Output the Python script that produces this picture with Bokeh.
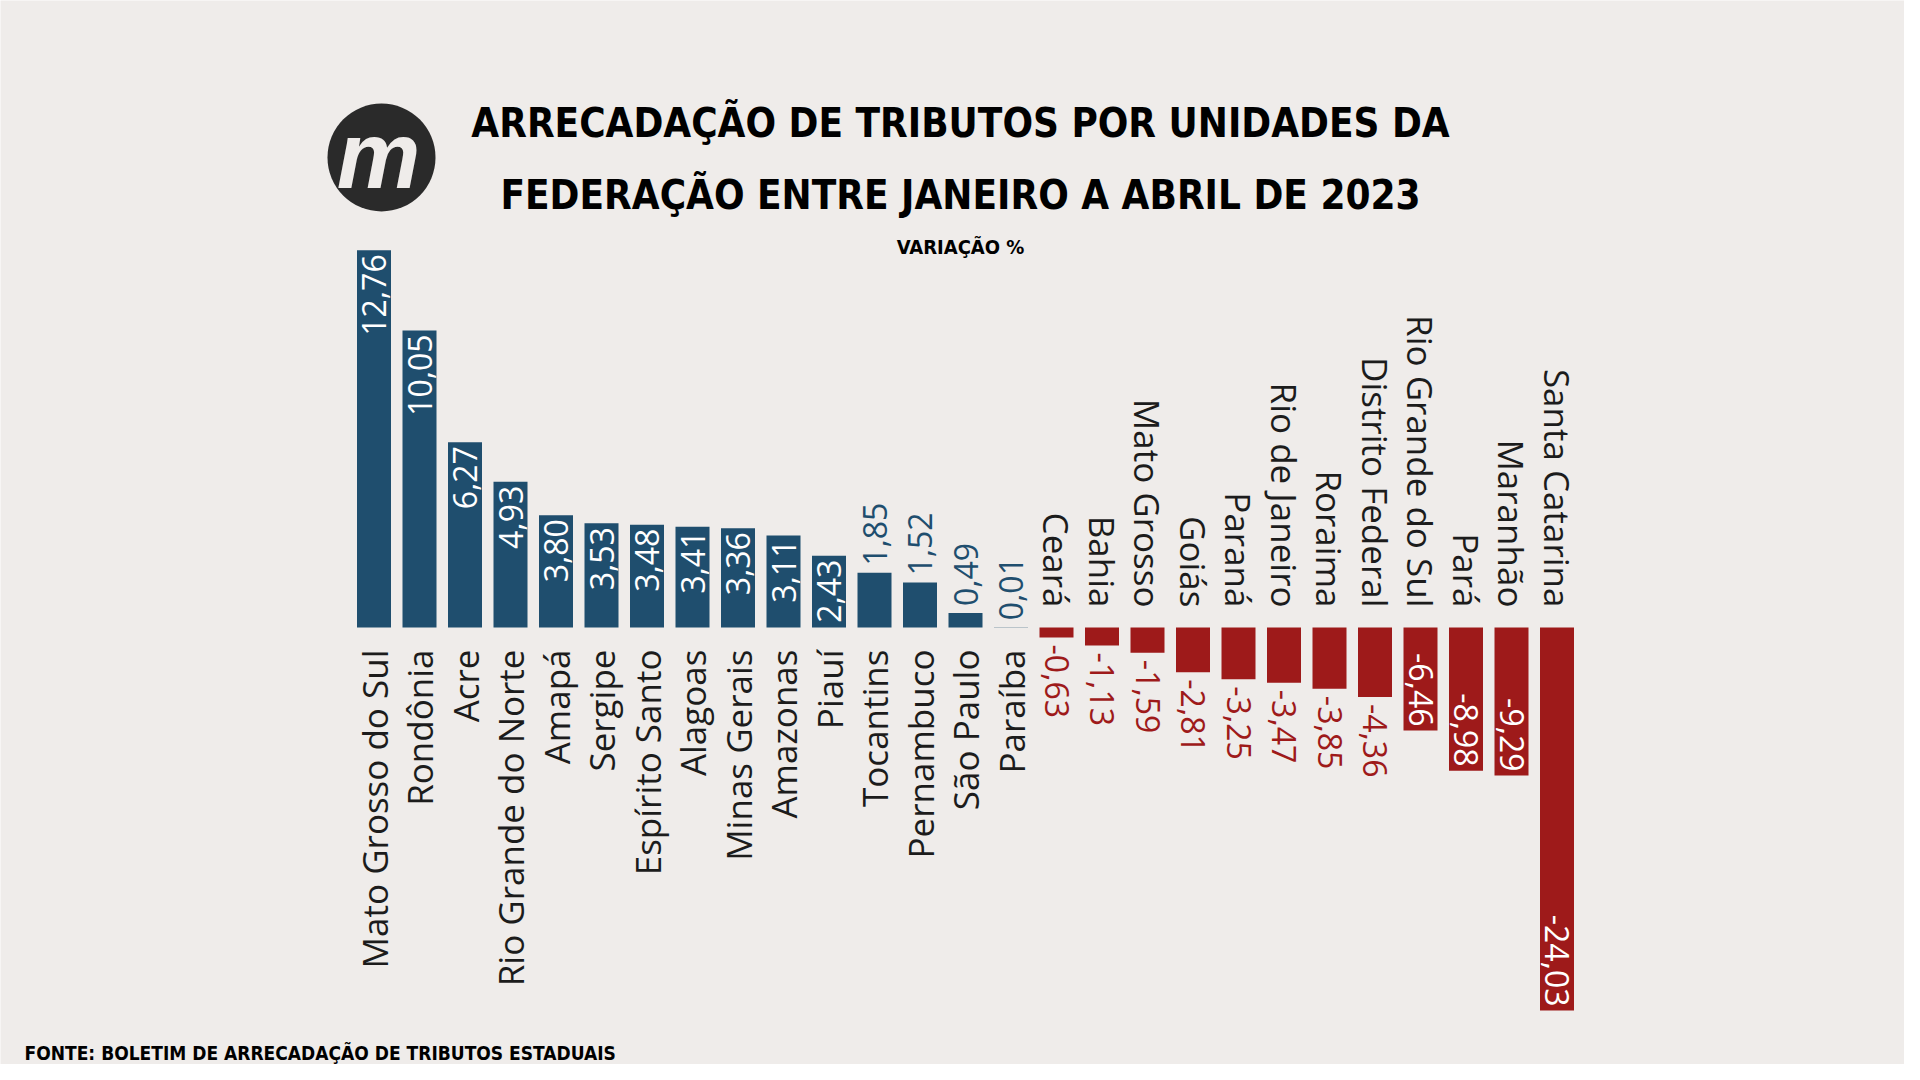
import math
from bokeh.plotting import figure
from bokeh.models import Range1d
from bokeh.core.properties import value
from bokeh.embed import file_html
from bokeh.resources import INLINE

# ---------------- data ----------------
states = ["Mato Grosso do Sul", "Rondônia", "Acre", "Rio Grande do Norte", "Amapá",
          "Sergipe", "Espírito Santo", "Alagoas", "Minas Gerais", "Amazonas", "Piauí",
          "Tocantins", "Pernambuco", "São Paulo", "Paraíba", "Ceará", "Bahia",
          "Mato Grosso", "Goiás", "Paraná", "Rio de Janeiro", "Roraima",
          "Distrito Federal", "Rio Grande do Sul", "Pará", "Maranhão", "Santa Catarina"]
variacao = [12.76, 10.05, 6.27, 4.93, 3.80, 3.53, 3.48, 3.41, 3.36, 3.11, 2.43,
            1.85, 1.52, 0.49, 0.01, -0.63, -1.13, -1.59, -2.81, -3.25, -3.47,
            -3.85, -4.36, -6.46, -8.98, -9.29, -24.03]
title_lines = ["ARRECADAÇÃO DE TRIBUTOS POR UNIDADES DA",
               "FEDERAÇÃO ENTRE JANEIRO A ABRIL DE 2023"]
subtitle = "VARIAÇÃO %"
source_note = "FONTE: BOLETIM DE ARRECADAÇÃO DE TRIBUTOS ESTADUAIS"

# ---------------- style / layout ----------------
W, H = 1904, 1064
BG = "#efecea"
BLUE = "#1f4e6e"
RED = "#9e1a1a"
DARK = "#1c1c1c"
BAR0_X = 373.5      # px of first bar centre
STEP = 45.5         # px between bars
BAR_W = 34
ZERO_Y = 627        # px of zero line (from top)
POS_PX = 29.56      # px per unit, positive side
NEG_PX = 15.94      # px per unit, negative side

TITLE_FONT = value("'DejaVu Sans Condensed', 'Liberation Sans Narrow', sans-serif")
BODY_FONT = value("Open Sans")

x_range = Range1d(-BAR0_X / STEP, (W - BAR0_X) / STEP)
y_range = Range1d((ZERO_Y - H) / POS_PX, ZERO_Y / POS_PX)

p = figure(width=W, height=H, output_backend="svg", toolbar_location=None,
           x_range=x_range, y_range=y_range, title=None,
           x_axis_location=None, y_axis_location=None, min_border=0,
           background_fill_color=BG, border_fill_color=BG, outline_line_color=None)
p.grid.visible = False
p.extra_y_ranges = {"neg": Range1d((ZERO_Y - H) / NEG_PX, ZERO_Y / NEG_PX),
                    "py": Range1d(H, 0)}
p.extra_x_ranges = {"px": Range1d(0, W)}

idx = list(range(len(states)))
labels = [f"{v:.2f}".replace(".", ",") for v in variacao]

pos = [i for i in idx if variacao[i] >= 0]
neg = [i for i in idx if variacao[i] < 0]
bw = BAR_W / STEP

p.vbar(x=pos, top=[variacao[i] for i in pos], bottom=0, width=bw,
       fill_color=BLUE, line_color=None)
p.vbar(x=neg, top=0, bottom=[variacao[i] for i in neg], width=bw,
       fill_color=RED, line_color=None, y_range_name="neg")

VAL_SIZE = "32px"
CAT_SIZE = "35px"
INSIDE_MIN = 70  # px: bars longer than this hold their label inside

# positive bars: value labels
pin = [i for i in pos if variacao[i] * POS_PX > INSIDE_MIN]
pout = [i for i in pos if variacao[i] * POS_PX <= INSIDE_MIN]
p.text(x=pin, y=[variacao[i] - 4 / POS_PX for i in pin], text=[labels[i] for i in pin],
       angle=math.pi / 2, text_align="right", text_baseline="middle",
       text_color="white", text_font=BODY_FONT, text_font_size=VAL_SIZE)
p.text(x=pout, y=[variacao[i] + 7 / POS_PX for i in pout], text=[labels[i] for i in pout],
       angle=math.pi / 2, text_align="left", text_baseline="middle",
       text_color=BLUE, text_font=BODY_FONT, text_font_size=VAL_SIZE)
# positive bars: category labels below zero line
p.text(x=pos, y=[-22 / POS_PX] * len(pos), text=[states[i] for i in pos],
       angle=math.pi / 2, text_align="right", text_baseline="middle",
       text_color=DARK, text_font=BODY_FONT, text_font_size=CAT_SIZE)

# negative bars: value labels
nin = [i for i in neg if -variacao[i] * NEG_PX > INSIDE_MIN]
nout = [i for i in neg if -variacao[i] * NEG_PX <= INSIDE_MIN]
p.text(x=nin, y=[variacao[i] + 4 / NEG_PX for i in nin], text=[labels[i] for i in nin],
       angle=-math.pi / 2, text_align="right", text_baseline="middle",
       text_color="white", text_font=BODY_FONT, text_font_size=VAL_SIZE, y_range_name="neg")
p.text(x=nout, y=[variacao[i] - 7 / NEG_PX for i in nout], text=[labels[i] for i in nout],
       angle=-math.pi / 2, text_align="left", text_baseline="middle",
       text_color=RED, text_font=BODY_FONT, text_font_size=VAL_SIZE, y_range_name="neg")
# negative bars: category labels above zero line
p.text(x=neg, y=[20 / NEG_PX] * len(neg), text=[states[i] for i in neg],
       angle=-math.pi / 2, text_align="right", text_baseline="middle",
       text_color=DARK, text_font=BODY_FONT, text_font_size=CAT_SIZE, y_range_name="neg")

# ---------------- title block (pixel coordinates from top-left) ----------------
p.text(x=[960, 960], y=[122, 194], text=title_lines, text_align="center",
       text_baseline="middle", text_color="black", text_font=TITLE_FONT,
       text_font_style="bold", text_font_size="40px",
       x_range_name="px", y_range_name="py")
p.text(x=[960], y=[246], text=[subtitle], text_align="center",
       text_baseline="middle", text_color="black", text_font=TITLE_FONT,
       text_font_style="bold", text_font_size="20px",
       x_range_name="px", y_range_name="py")
p.text(x=[24], y=[1052], text=[source_note], text_align="left",
       text_baseline="middle", text_color="black", text_font=TITLE_FONT,
       text_font_style="bold", text_font_size="19px",
       x_range_name="px", y_range_name="py")

# logo
p.circle(x=[381], y=[157], radius=54, fill_color="#2a2a2a", line_color=None,
         x_range_name="px", y_range_name="py")
p.text(x=[378], y=[155], text=["m"], text_align="center", text_baseline="middle",
       text_color=BG, text_font=value("Liberation Sans"), text_font_style="bold italic",
       text_font_size="94px", x_range_name="px", y_range_name="py")

open("out.html", "w").write(file_html(p, INLINE))
